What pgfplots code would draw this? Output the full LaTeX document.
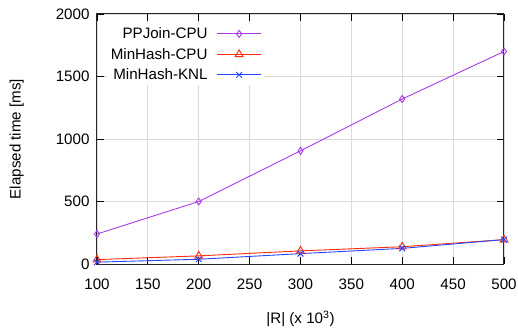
\documentclass[border=0pt]{standalone}
\usepackage{pgfplots}
\pgfplotsset{compat=1.18}
\usepackage{fontspec}
\setmainfont{Liberation Sans}
\definecolor{ppj}{RGB}{170,60,230}
\definecolor{mhc}{RGB}{255,45,10}
\definecolor{mhk}{RGB}{40,70,255}
\newcommand{\ff}{\fontsize{15.2}{18}\selectfont}
\begin{document}
\begin{tikzpicture}[font=\ff]
\path[use as bounding box] (-97bp,-69bp) rectangle (421bp,264bp);
\begin{axis}[
  at={(0,0)}, anchor=south west,
  scale only axis, width=407bp, height=250bp,
  xmin=100, xmax=500, ymin=0, ymax=2000,
  xtick={100,150,...,500}, ytick={0,500,...,2000},
  tick align=inside, major tick length=7bp,
  tick style={black, line width=0.8bp},
  axis line style={line width=1bp, black!85},
  grid=major, major grid style={gray!28, line width=0.9bp},
  /pgf/number format/assume math mode=true,
  /pgf/number format/1000 sep={},
  ticklabel style={font=\ff},
  label style={font=\ff},
  xticklabel style={yshift=-11bp},
  yticklabel style={xshift=-4bp},
  xlabel={|R| (x 10\textsuperscript{3})},
  ylabel={Elapsed time [ms]},
  x label style={at={(axis description cs:0.5,-0.22)}, anchor=center},
  y label style={at={(axis description cs:-0.197,0.5)}, anchor=center},
  legend plot pos=right,
  legend cell align=right,
  legend style={draw=none, fill=white, at={(axis description cs:0.41,0.962)}, anchor=north east,
    font=\ff, row sep=4bp, inner sep=2bp, nodes={inner sep=2bp},
    /tikz/every odd column/.append style={column sep=7bp}},
  legend image code/.code={\draw[mark repeat=2,mark phase=2] plot coordinates {(0cm,0cm) (0.78cm,0cm) (1.56cm,0cm)};},
]
\addplot[color=ppj, line width=0.9bp, mark=diamond, mark size=3.5bp, mark options={solid}] coordinates {
(100,240) (200,500) (300,905) (400,1320) (500,1700)};
\addlegendentry{PPJoin-CPU}
\addplot[color=mhc, line width=0.9bp, mark=triangle, mark size=4.5bp, mark options={solid}] coordinates {
(100,35) (200,65) (300,105) (400,138) (500,195)};
\addlegendentry{MinHash-CPU}
\addplot[color=mhk, line width=0.9bp, mark=x, mark size=4bp, mark options={solid}] coordinates {
(100,15) (200,38) (300,83) (400,125) (500,195)};
\addlegendentry{MinHash-KNL}
\end{axis}
\end{tikzpicture}
\end{document}
